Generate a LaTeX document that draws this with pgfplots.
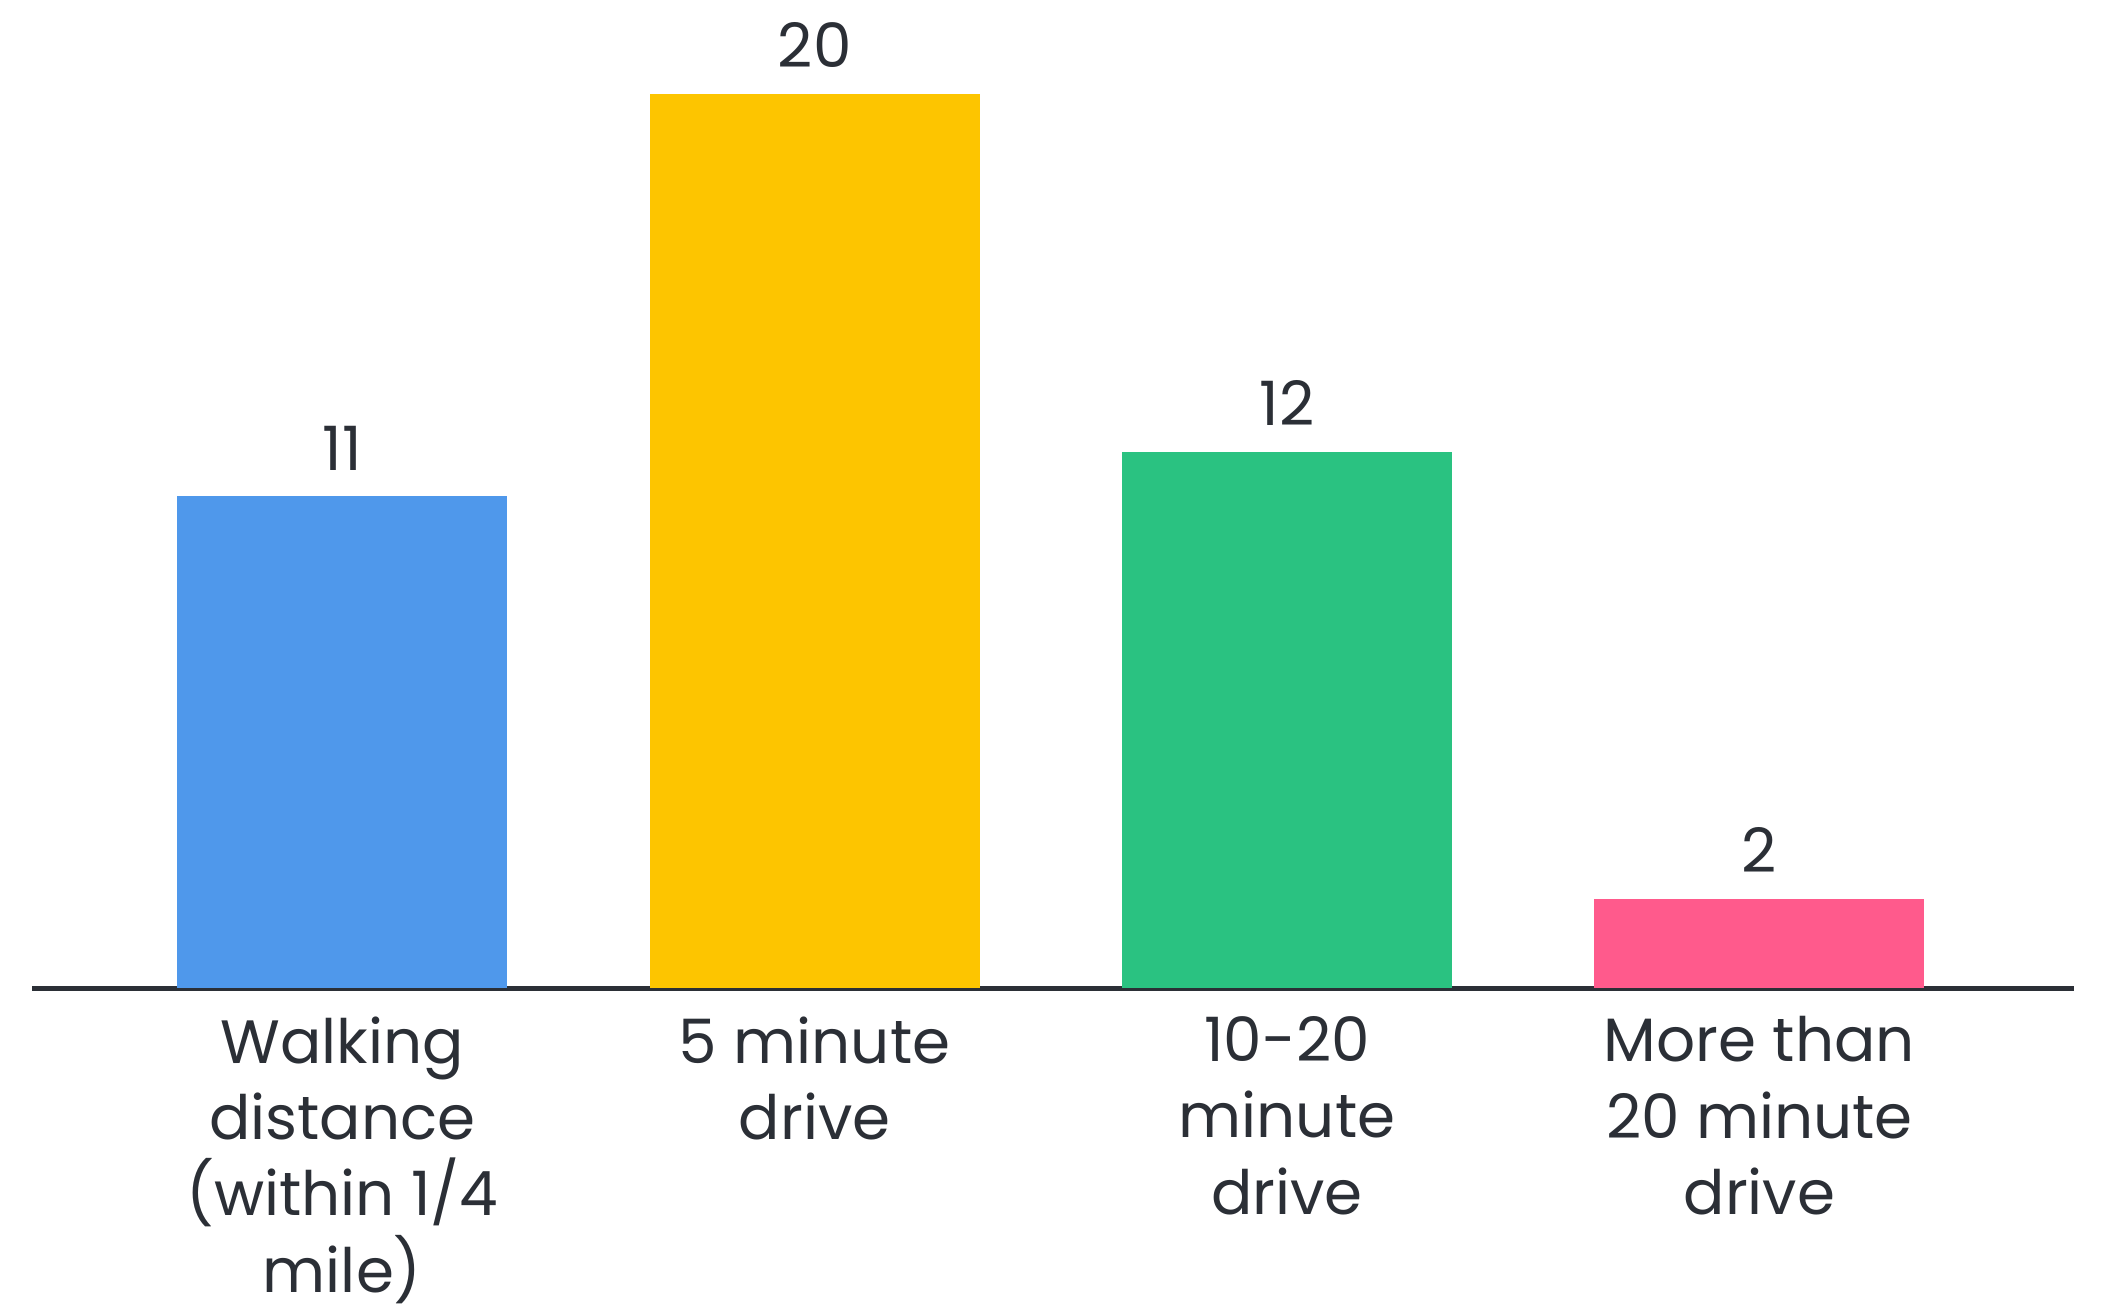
\documentclass[border=0pt]{standalone}
\usepackage{pgfplots}
\pgfplotsset{compat=1.18}
\usepackage{fontspec}
\setmainfont{Poppins}
\definecolor{cblue}{HTML}{4F98EB}
\definecolor{cyellow}{HTML}{FDC500}
\definecolor{cgreen}{HTML}{2AC281}
\definecolor{cpink}{HTML}{FF5A8C}
\definecolor{ctext}{HTML}{2B2F36}
\begin{document}
\begin{tikzpicture}
\path[use as bounding box] (0,0) rectangle (525.5pt,327.5pt);
\begin{axis}[
  at={(8pt,80.5pt)}, anchor=south west,
  width=510.5pt, height=247pt, scale only axis,
  xmin=-0.657, xmax=3.666, ymin=0, ymax=22.1,
  axis x line=bottom, axis y line=none,
  axis line style={-, line width=1.25pt, color=ctext},
  xtick={0,1,2,3}, major tick length=0pt,
  xticklabels={{Walking\\distance\\(within 1/4\\mile)},{5 minute\\drive},{10-20\\minute\\drive},{More than\\20 minute\\drive}},
  xticklabel style={align=center, text=ctext, font=\fontsize{15.3pt}{19.1pt}\selectfont, yshift=-3.6pt},
  ytick=\empty,
  bar width=82.5pt,
  /pgf/number format/assume math mode=true,
  nodes near coords,
  every node near coord/.append style={text=ctext, font=\fontsize{15.3pt}{19.1pt}\selectfont, yshift=3pt},
  clip=false,
]
\addplot[ybar, fill=cblue, draw=none] coordinates {(0,11)};
\addplot[ybar, fill=cyellow, draw=none] coordinates {(1,20)};
\addplot[ybar, fill=cgreen, draw=none] coordinates {(2,12)};
\addplot[ybar, fill=cpink, draw=none] coordinates {(3,2)};
\end{axis}
\end{tikzpicture}
\end{document}
